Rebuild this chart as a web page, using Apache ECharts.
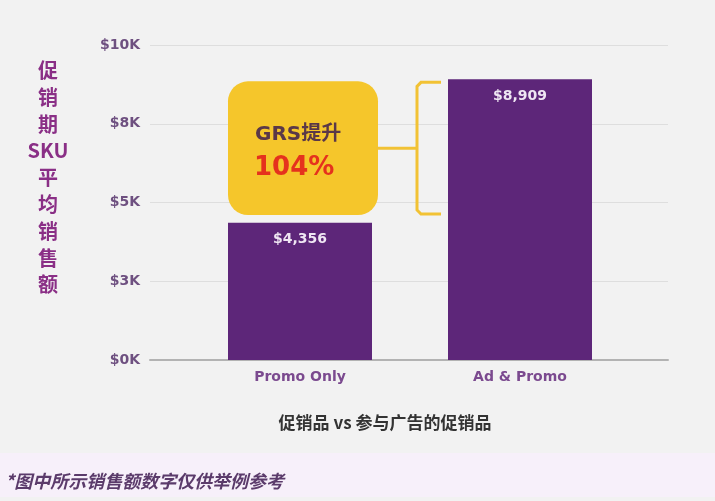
<!DOCTYPE html>
<html><head><meta charset="utf-8">
<script src="https://cdn.jsdelivr.net/npm/echarts@6/dist/echarts.min.js"></script>
<style>html,body{margin:0;padding:0;background:#f2f2f2;}#c{width:715px;height:501px;}</style>
</head><body><div id="c"></div>
<script>
const categories = ['Promo Only', 'Ad & Promo'];
const salesValues = [4356, 8909];
const tickValues = [0, 2500, 5000, 7500, 10000];
const tickLabels = ['$0K', '$3K', '$5K', '$8K', '$10K'];
const yAxisTitle = '促\n销\n期\nSKU\n平\n均\n销\n售\n额';
const xAxisTitle = '促销品 vs 参与广告的促销品';
const liftLabel = 'GRS提升';
const liftValue = '104%';
const footnote = '*图中所示销售额数字仅供举例参考';

const chart = echarts.init(document.getElementById('c'));
const latin = '"DejaVu Sans", "Noto Sans", "Noto Sans CJK SC", sans-serif';
const cjk = '"Noto Sans CJK SC", "Noto Sans", sans-serif';

chart.setOption({
  backgroundColor: '#f2f2f2',
  animation: false,
  grid: [
    {left: 190, right: 85, top: 45, bottom: 141},
    {left: 150, right: 47, top: 45, bottom: 141}
  ],
  xAxis: [
    {type: 'category', gridIndex: 0, data: categories,
     axisLine: {show: false}, axisTick: {show: false},
     axisLabel: {color: '#7b4a8f', fontWeight: 'bold', fontSize: 14, margin: 10, fontFamily: latin}},
    {type: 'value', gridIndex: 1, min: 0, max: 1,
     axisLine: {show: true, onZero: false, lineStyle: {color: '#b3b3b3', width: 2}},
     axisTick: {show: false}, axisLabel: {show: false}, splitLine: {show: false}}
  ],
  yAxis: [
    {type: 'value', gridIndex: 0, min: 0, max: 10000, interval: 2500, show: false},
    {type: 'value', gridIndex: 1, min: 0, max: 10000, interval: 2500,
     axisLine: {show: false}, axisTick: {show: false},
     splitLine: {lineStyle: {color: '#dedede', width: 1}},
     axisLabel: {color: '#6e5080', fontWeight: 'bold', fontSize: 14, margin: 10, fontFamily: latin,
       formatter: v => tickLabels[tickValues.indexOf(v)]}}
  ],
  series: [{
    type: 'bar', xAxisIndex: 0, yAxisIndex: 0, data: salesValues,
    barWidth: 144, z: 3,
    itemStyle: {color: '#5d2679'},
    label: {show: true, position: 'insideTop', distance: 10, color: '#efe6f3',
      fontWeight: 'bold', fontSize: 14, fontFamily: latin,
      formatter: p => '$' + p.value.toLocaleString('en-US')}
  }]
});

const p0 = chart.convertToPixel({gridIndex: 0}, [0, salesValues[0]]);
const p1 = chart.convertToPixel({gridIndex: 0}, [1, salesValues[1]]);
const halfBar = 72;
const boxLeft = p0[0] - halfBar;
const boxTop = p1[1] + 2;
const boxBottom = 215;
const boxRight = boxLeft + 150;
const brX = p1[0] - halfBar - 31;
const brTick = p1[0] - halfBar - 7;
const midY = (boxTop + boxBottom) / 2;
const yc = '#f2c234';

chart.setOption({
  graphic: [
    {type: 'rect', shape: {x: 0, y: 453, width: 715, height: 44},
     style: {fill: '#f7f0fa'}, z: -1, silent: true},
    {type: 'text', x: 48, y: 57, style: {text: yAxisTitle, fill: '#8a2f86', fontSize: 20,
      fontWeight: 'bold', fontFamily: cjk, align: 'center', lineHeight: 26.8}},
    {type: 'text', x: 385, y: 423, style: {text: xAxisTitle, fill: '#333333', fontSize: 17,
      fontWeight: 'bold', fontFamily: cjk, align: 'center', verticalAlign: 'middle'}},
    {type: 'text', x: 5, y: 481, style: {text: footnote, fill: '#5b3b6b', fontSize: 18,
      fontWeight: 'bold', fontStyle: 'italic', fontFamily: cjk, align: 'left', verticalAlign: 'middle'}},
    {type: 'rect', shape: {x: boxLeft, y: boxTop, width: boxRight - boxLeft, height: boxBottom - boxTop, r: 20},
     style: {fill: '#f5c62b'}, z: 10},
    {type: 'text', x: boxLeft + 27, y: 135, z: 11, style: {text: liftLabel, fill: '#5a3848', fontSize: 20,
      fontWeight: 'bold', fontFamily: latin, verticalAlign: 'middle'}},
    {type: 'text', x: boxLeft + 26, y: 168, z: 11, style: {text: liftValue, fill: '#e5321d', fontSize: 26,
      fontWeight: 'bold', fontFamily: latin, verticalAlign: 'middle'}},
    {type: 'polyline', z: 10, shape: {points: [[brTick, boxTop + 1], [brX + 4, boxTop + 1], [brX, boxTop + 5], [brX, boxBottom - 5], [brX + 4, boxBottom - 1], [brTick, boxBottom - 1]]},
     style: {stroke: yc, lineWidth: 3, fill: null}},
    {type: 'line', z: 10, shape: {x1: boxRight - 2, y1: midY, x2: brX, y2: midY},
     style: {stroke: yc, lineWidth: 3}}
  ]
});
</script></body></html>
